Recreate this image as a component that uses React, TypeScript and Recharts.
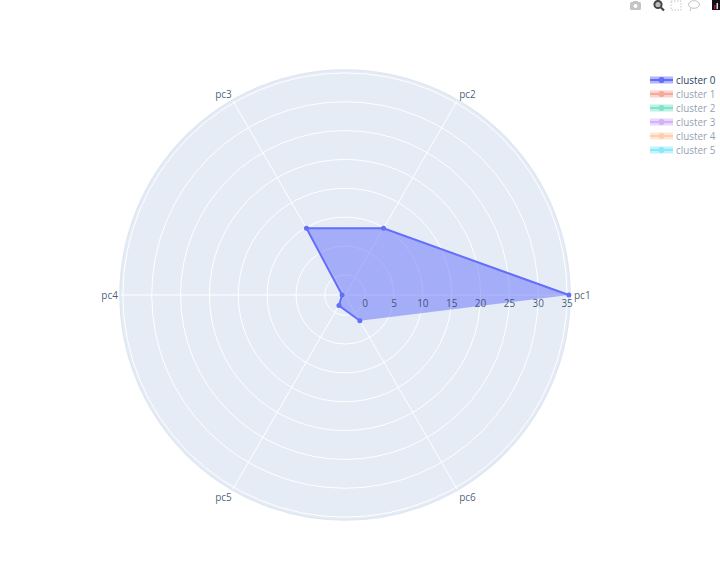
import { RadarChart, Radar, PolarGrid, PolarAngleAxis, PolarRadiusAxis, Legend } from "recharts";

const axes = ["pc1", "pc2", "pc3", "pc4", "pc5", "pc6"];
const cluster0 = [35.3, 9.85, 9.85, -3, -1.4, 1.65];
const clusterNames = ["cluster 0", "cluster 1", "cluster 2", "cluster 3", "cluster 4", "cluster 5"];
const clusterColors = ["#636efa", "#ef553b", "#00cc96", "#ab63fa", "#ffa15a", "#19d3f3"];
const radiusTicks = [0, 5, 10, 15, 20, 25, 30, 35];
// recharts goes clockwise, the axes here run anticlockwise from pc1
const drawOrder = [0, 5, 4, 3, 2, 1];

const data = drawOrder.map((i) => ({ axis: axes[i], value: cluster0[i] }));

const FONT = "'Open Sans', sans-serif";
const TEXT = "#2a3f5f";

const tickShift: Record<string, [number, number]> = {
  pc1: [-4, 0],
  pc2: [6, 1],
  pc3: [-5, 1],
  pc4: [6, 0],
  pc5: [-5, 1],
  pc6: [6, 1],
};

const AngleTick = (props: any) => {
  const { x, y, payload } = props;
  const anchor = payload.value === "pc1" ? "start" : payload.value === "pc4" ? "end" : "middle";
  const [dx, dy] = tickShift[payload.value];
  return (
    <text x={x + dx} y={y + dy} dy={3.5} textAnchor={anchor} fontFamily={FONT} fontSize={10} fill={TEXT} fillOpacity={0.85}>
      {payload.value}
    </text>
  );
};

const RadiusTick = (props: any) => {
  const { x, y, payload } = props;
  return (
    <text x={x} y={y} dy={12} textAnchor="middle" fontFamily={FONT} fontSize={10} fill={TEXT} fillOpacity={0.85}>
      {payload.value}
    </text>
  );
};

// the trace is not closed: the pc6 -> pc1 edge has fill but no line
const OpenPolygon = (props: any) => {
  const pts: { x: number; y: number }[] = props.points;
  const toStr = (list: { x: number; y: number }[]) => list.map((p) => `${p.x},${p.y}`).join(" ");
  return (
    <g>
      <polygon points={toStr(pts)} fill={clusterColors[0]} fillOpacity={0.5} stroke="none" />
      <polyline points={toStr([...pts.slice(1), pts[0]])} fill="none" stroke={clusterColors[0]} strokeWidth={2} />
    </g>
  );
};

const LegendBox = () => (
  <div style={{ fontFamily: FONT, fontSize: 9.9, lineHeight: "14px" }}>
    {clusterNames.map((name, i) => (
      <div key={name} style={{ display: "flex", alignItems: "center", height: 14, opacity: i === 0 ? 1 : 0.5 }}>
        <svg width={27} height={14}>
          <rect x={1} y={3.5} width={23} height={7} fill={clusterColors[i]} fillOpacity={0.5} />
          <line x1={1} x2={24} y1={7} y2={7} stroke={clusterColors[i]} strokeWidth={2} />
          <circle cx={12.5} cy={7} r={3} fill={clusterColors[i]} />
        </svg>
        <span style={{ color: TEXT }}>{name}</span>
      </div>
    ))}
  </div>
);

const Toolbar = () => (
  <svg width={100} height={14} style={{ position: "absolute", left: 620, top: 0 }}>
    <g fill="#c4c4c4">
      <rect x={10} y={2} width={11} height={8} rx={1.5} />
      <rect x={13} y={1} width={5} height={2} />
    </g>
    <circle cx={15.5} cy={6} r={2} fill="#ffffff" />
    <circle cx={38} cy={4.5} r={3.6} fill="#bbb" stroke="#444" strokeWidth={2} />
    <line x1={41} x2={44} y1={7.5} y2={10.5} stroke="#444" strokeWidth={2.2} />
    <rect x={51} y={1} width={10} height={9} fill="none" stroke="#c4c4c4" strokeDasharray="1.5 1.5" />
    <ellipse cx={74} cy={4.5} rx={5.5} ry={3.8} fill="none" stroke="#c4c4c4" />
    <path d="M71 8 L70 11" stroke="#c4c4c4" fill="none" />
    <rect x={92} y={0} width={8} height={10} fill="#111" />
    <rect x={94} y={5} width={1.5} height={4} fill="#b06" />
    <rect x={96.5} y={3} width={1.5} height={6} fill="#ddd" />
  </svg>
);

const App = () => {
  return (
    <div style={{ position: "absolute", left: 0, top: 0, width: 720, height: 576, overflow: "hidden" }}>
      <div
        style={{
          position: "absolute",
          left: 120,
          top: 70,
          width: 450,
          height: 450,
          borderRadius: "50%",
          background: "#E5ECF6",
        }}
      />
      <Toolbar />
      <RadarChart
        width={720}
        height={576}
        data={data}
        cx={345}
        cy={295}
        outerRadius={225}
        startAngle={0}
        endAngle={-360}
        margin={{ top: 0, right: 0, bottom: 0, left: 0 }}
        style={{ position: "absolute", left: 0, top: 0 }}
      >
        <PolarGrid gridType="circle" stroke="#ffffff" strokeWidth={1} />
        <PolarAngleAxis
          dataKey="axis"
          tick={AngleTick}
          tickLine={false}
          axisLineType="circle"
          axisLine={{ stroke: "#dfe7f3", strokeWidth: 1.5 }}
        />
        <PolarRadiusAxis
          type="number"
          angle={0}
          domain={[-3.5, 35.5]}
          allowDataOverflow
          allowDecimals
          ticks={radiusTicks as any}
          tick={RadiusTick}
          tickLine={false}
          axisLine={false}
        />
        <Radar
          dataKey="value"
          name={clusterNames[0]}
          shape={OpenPolygon}
          dot={{ r: 2.5, fill: clusterColors[0], fillOpacity: 1, strokeWidth: 0 }}
          isAnimationActive={false}
        />
        <Legend
          layout="vertical"
          align="right"
          verticalAlign="top"
          content={LegendBox}
          wrapperStyle={{ left: 649, top: 73, width: 71 }}
        />
      </RadarChart>
    </div>
  );
};

export default App;
